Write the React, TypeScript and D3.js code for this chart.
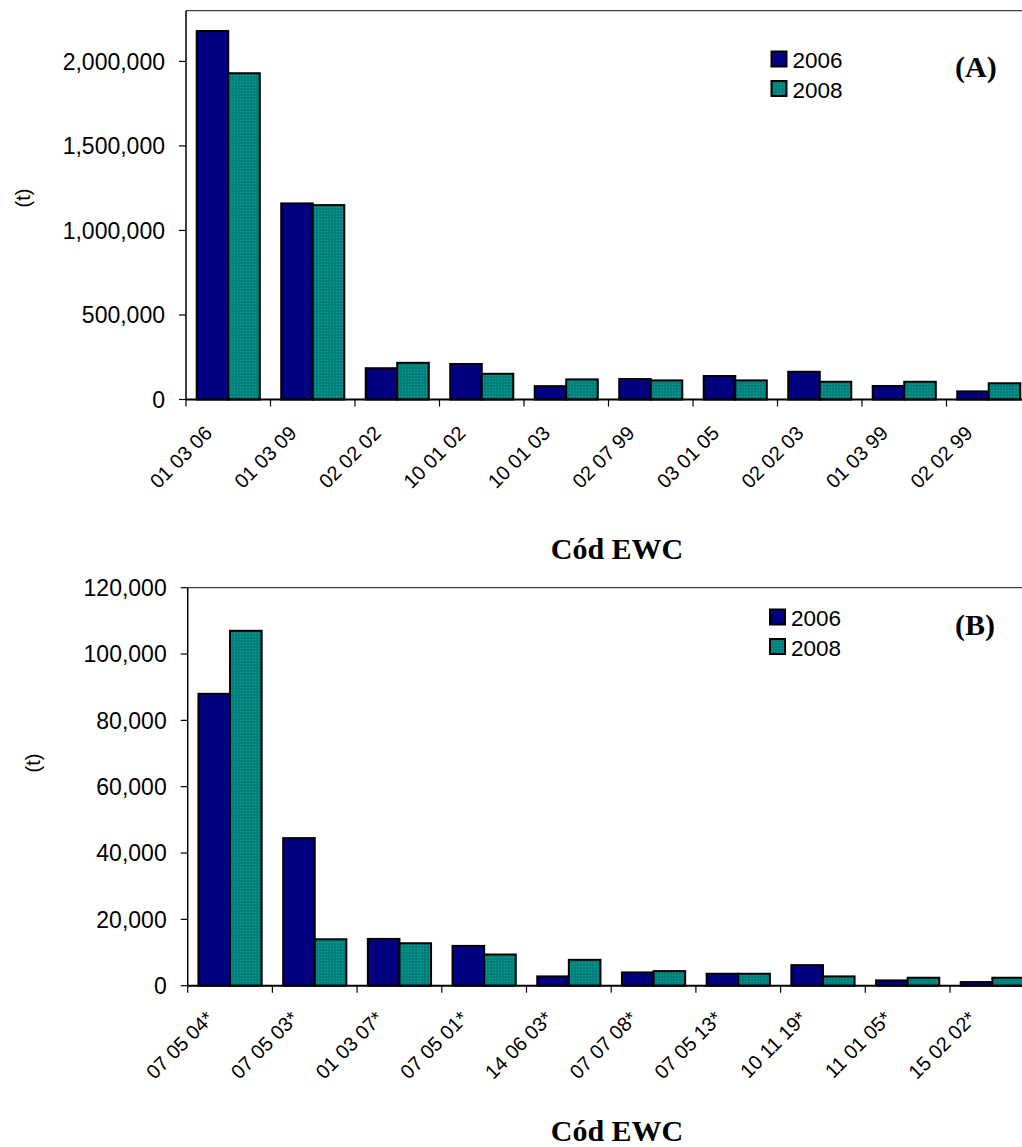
import React from 'react';
import * as d3 from 'd3';

const categoriesA = ['01 03 06', '01 03 09', '02 02 02', '10 01 02', '10 01 03', '02 07 99', '03 01 05', '02 02 03', '01 03 99', '02 02 99'];
const valuesA2006 = [2180000, 1160000, 185000, 210000, 79000, 121000, 139000, 164000, 80000, 48000];
const valuesA2008 = [1930000, 1150000, 217000, 152000, 119000, 113000, 113000, 105000, 105000, 96000];
const ticksA = [0, 500000, 1000000, 1500000, 2000000];

const categoriesB = ['07 05 04*', '07 05 03*', '01 03 07*', '07 05 01*', '14 06 03*', '07 07 08*', '07 05 13*', '10 11 19*', '11 01 05*', '15 02 02*'];
const valuesB2006 = [88000, 44500, 14100, 12000, 2800, 4000, 3600, 6200, 1600, 1100];
const valuesB2008 = [107000, 14000, 12800, 9400, 7800, 4400, 3600, 2800, 2400, 2400];
const ticksB = [0, 20000, 40000, 60000, 80000, 100000, 120000];

const seriesNames = ['2006', '2008'];
const panelLabels = ['(A)', '(B)'];
const xTitle = 'Cód EWC';
const yTitle = '(t)';

const SANS = '"Liberation Sans", Arial, sans-serif';
const SERIF = '"Liberation Serif", "Times New Roman", serif';
const NAVY = '#000080';
const TEAL = 'url(#tealPat)';

type PanelProps = {
  cats: string[];
  v1: number[];
  v2: number[];
  ticks: number[];
  yMax: number;
  left: number;
  top: number;
  bottom: number;
  step: number;
  label: string;
  legendX: number;
  legendY: number;
  labelY: number;
  titleY: number;
  yTitleX: number;
  yTitleY: number;
};

function Panel(p: PanelProps) {
  const n = p.cats.length;
  const x = d3.scaleBand<string>().domain(p.cats).range([p.left, p.left + n * p.step]).padding(0);
  const x1 = d3.scaleBand<string>().domain(seriesNames).range([0, x.bandwidth()]).paddingInner(0).paddingOuter(0.34);
  const y = d3.scaleLinear().domain([0, p.yMax]).range([p.bottom, p.top]);
  const fmt = d3.format(',');
  const series = [p.v1, p.v2];
  const fills = [NAVY, TEAL];
  const right = p.left + n * p.step;
  return (
    <g>
      {/* plot border */}
      <line x1={p.left} x2={right} y1={p.top} y2={p.top} stroke="#404040" strokeWidth={1.2} />
      <line x1={right} x2={right} y1={p.top} y2={p.bottom} stroke="#404040" strokeWidth={1.2} />
      {/* bars */}
      {p.cats.map((c, i) => (
        <g key={c}>
          {series.map((s, k) => (
            <rect
              key={k}
              x={(x(c) as number) + (x1(seriesNames[k]) as number)}
              y={y(s[i])}
              width={x1.bandwidth()}
              height={p.bottom - y(s[i])}
              fill={fills[k]}
              stroke="#000"
              strokeWidth={2}
            />
          ))}
        </g>
      ))}
      {/* y axis */}
      <line x1={p.left} x2={p.left} y1={p.top} y2={p.bottom} stroke="#000" strokeWidth={1.5} />
      {p.ticks.map((t) => (
        <g key={t}>
          <line x1={p.left - 7} x2={p.left} y1={y(t)} y2={y(t)} stroke="#000" strokeWidth={1.2} />
          <text x={p.left - 21} y={y(t)} dy="0.36em" textAnchor="end" fontFamily={SANS} fontSize={23} fill="#000">
            {fmt(t)}
          </text>
        </g>
      ))}
      {/* x axis */}
      <line x1={p.left} x2={right} y1={p.bottom} y2={p.bottom} stroke="#000" strokeWidth={2} />
      {d3.range(n + 1).map((i) => (
        <line key={i} x1={p.left + i * p.step} x2={p.left + i * p.step} y1={p.bottom} y2={p.bottom + 7} stroke="#000" strokeWidth={1.2} />
      ))}
      {p.cats.map((c) => {
        const cx = (x(c) as number) + x.bandwidth() / 2 - 15;
        const cy = p.bottom + p.labelY;
        return (
          <text key={c} x={cx} y={cy} transform={`rotate(-45 ${cx} ${cy})`} textAnchor="end" fontFamily={SANS} fontSize={20} fill="#000">
            {c}
          </text>
        );
      })}
      {/* axis titles */}
      <text x={617} y={p.titleY} textAnchor="middle" fontFamily={SERIF} fontWeight="bold" fontSize={30} fill="#000">
        {xTitle}
      </text>
      <text
        x={p.yTitleX}
        y={p.yTitleY}
        transform={`rotate(-90 ${p.yTitleX} ${p.yTitleY})`}
        textAnchor="middle"
        dy="0.35em"
        fontFamily={SANS}
        fontSize={20}
        fill="#000"
      >
        {yTitle}
      </text>
      {/* legend */}
      {seriesNames.map((s, k) => (
        <g key={s}>
          <rect x={p.legendX} y={p.legendY + k * 29.5} width={15} height={15} fill={fills[k]} stroke="#000" strokeWidth={2} />
          <text x={p.legendX + 21} y={p.legendY + k * 29.5 + 16.5} fontFamily={SANS} fontSize={22.5} fill="#000">
            {s}
          </text>
        </g>
      ))}
      {/* panel label */}
      <text x={955} y={p.top + p.legendY - p.top + 25} fontFamily={SERIF} fontWeight="bold" fontSize={30} fill="#000">
        {p.label}
      </text>
    </g>
  );
}

export default function App() {
  return (
    <svg width={1022} height={1147} style={{ position: 'absolute', left: 0, top: 0, background: '#fff' }}>
      <defs>
        <pattern id="tealPat" width={3} height={3} patternUnits="userSpaceOnUse">
          <rect width={3} height={3} fill="#008480" />
          <rect x={0} y={0} width={1} height={1} fill="#1f9a94" />
          <rect x={1.5} y={1.5} width={1} height={1} fill="#006f6b" />
        </pattern>
      </defs>
      <rect width={1022} height={1147} fill="#fff" />
      <Panel
        cats={categoriesA}
        v1={valuesA2006}
        v2={valuesA2008}
        ticks={ticksA}
        yMax={2300000}
        left={186}
        top={10.7}
        bottom={399.5}
        step={84.5}
        label={panelLabels[0]}
        legendX={771.5}
        legendY={51.5}
        labelY={35}
        titleY={559}
        yTitleX={23}
        yTitleY={198}
      />
      <Panel
        cats={categoriesB}
        v1={valuesB2006}
        v2={valuesB2008}
        ticks={ticksB}
        yMax={120000}
        left={187.7}
        top={587.7}
        bottom={985.7}
        step={84.7}
        label={panelLabels[1]}
        legendX={770}
        legendY={609.5}
        labelY={34}
        titleY={1141}
        yTitleX={33}
        yTitleY={763}
      />
    </svg>
  );
}
